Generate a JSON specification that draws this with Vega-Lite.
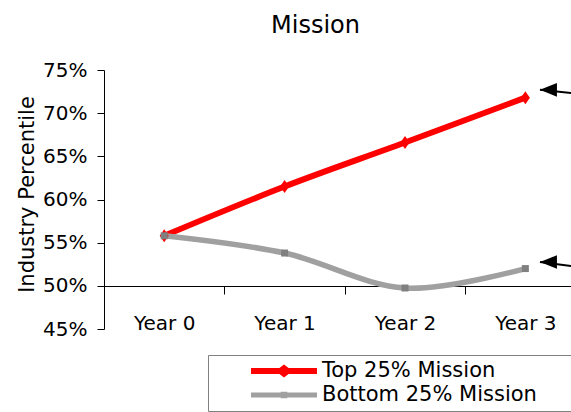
{
  "$schema": "https://vega.github.io/schema/vega-lite/v6.json",
  "width": 467,
  "height": 259,
  "autosize": {"type": "none"},
  "padding": {"left": 104, "top": 70, "right": 0, "bottom": 83},
  "background": "white",
  "title": {
    "text": "Mission",
    "font": "DejaVu Sans",
    "fontSize": 24,
    "fontWeight": "normal",
    "color": "black",
    "anchor": "middle",
    "frame": "group",
    "baseline": "alphabetic",
    "dx": -22,
    "offset": 3
  },
  "config": {
    "view": {"stroke": null},
    "axis": {
      "grid": false,
      "labelFont": "DejaVu Sans",
      "labelColor": "black",
      "domainColor": "black",
      "tickColor": "black",
      "titleFont": "DejaVu Sans",
      "titleFontWeight": "normal",
      "titleColor": "black"
    }
  },
  "datasets": {
    "series": [
      {"series": "Top 25% Mission", "year": 0, "value": 0.558},
      {"series": "Top 25% Mission", "year": 1, "value": 0.615},
      {"series": "Top 25% Mission", "year": 2, "value": 0.666},
      {"series": "Top 25% Mission", "year": 3, "value": 0.718},
      {"series": "Bottom 25% Mission", "year": 0, "value": 0.558},
      {"series": "Bottom 25% Mission", "year": 1, "value": 0.538},
      {"series": "Bottom 25% Mission", "year": 2, "value": 0.4975},
      {"series": "Bottom 25% Mission", "year": 3, "value": 0.52}
    ],
    "arrows": [
      {"year": 3.121, "value": 0.727, "year2": 3.38, "value2": 0.7234},
      {"year": 3.121, "value": 0.5276, "year2": 3.38, "value2": 0.523}
    ]
  },
  "resolve": {
    "axis": {"x": "independent"},
    "scale": {"color": "independent", "shape": "independent"}
  },
  "layer": [
    {
      "data": {"name": "series"},
      "mark": {"type": "line", "interpolate": "catmull-rom", "strokeCap": "butt", "strokeJoin": "round"},
      "encoding": {
        "x": {
          "field": "year",
          "type": "quantitative",
          "scale": {"domain": [-0.5, 3.379], "nice": false, "zero": false},
          "axis": {
            "orient": "bottom",
            "values": [0.5, 1.5, 2.5],
            "labels": false,
            "ticks": true,
            "tickSize": 8,
            "domain": true,
            "offset": -43,
            "title": null
          }
        },
        "y": {
          "field": "value",
          "type": "quantitative",
          "scale": {"domain": [0.45, 0.75], "nice": false, "zero": false},
          "axis": {
            "values": [0.45, 0.5, 0.55, 0.6, 0.65, 0.7, 0.75],
            "format": ".0%",
            "labelFontSize": 20,
            "tickSize": 7,
            "labelPadding": 10,
            "title": "Industry Percentile",
            "titleFontSize": 21,
            "titleAngle": 270,
            "titleAlign": "center",
            "titleBaseline": "alphabetic",
            "titleX": -71,
            "titleY": 124
          }
        },
        "color": {
          "field": "series",
          "type": "nominal",
          "scale": {"domain": ["Top 25% Mission", "Bottom 25% Mission"], "range": ["#ff0000", "#a0a0a0"]},
          "legend": null
        },
        "strokeWidth": {
          "field": "series",
          "type": "nominal",
          "scale": {"domain": ["Top 25% Mission", "Bottom 25% Mission"], "range": [6, 5.5]},
          "legend": null
        }
      }
    },
    {
      "data": {"name": "series"},
      "mark": {"type": "point", "filled": true, "opacity": 1, "size": 100, "strokeWidth": 0},
      "encoding": {
        "x": {
          "field": "year",
          "type": "quantitative",
          "axis": {
            "orient": "bottom",
            "values": [0, 1, 2, 3],
            "labelExpr": "'Year ' + datum.value",
            "labelFontSize": 20,
            "domain": false,
            "ticks": false,
            "offset": -43,
            "labelPadding": 27,
            "title": null
          }
        },
        "y": {"field": "value", "type": "quantitative", "title": "Industry Percentile"},
        "shape": {
          "field": "series",
          "type": "nominal",
          "scale": {
            "domain": ["Top 25% Mission", "Bottom 25% Mission"],
            "range": ["M0,-1.3L0.9,0L0,1.3L-0.9,0Z", "M-0.7,-0.7H0.7V0.7H-0.7Z"]
          },
          "legend": null
        },
        "color": {
          "field": "series",
          "type": "nominal",
          "scale": {"domain": ["Top 25% Mission", "Bottom 25% Mission"], "range": ["#ff0000", "#808080"]},
          "legend": null
        }
      }
    },
    {
      "data": {"name": "series"},
      "transform": [{"filter": "datum.year < 0"}],
      "mark": {"type": "point", "filled": true, "opacity": 1, "strokeWidth": 0},
      "encoding": {
        "x": {"field": "year", "type": "quantitative", "axis": null},
        "y": {"field": "value", "type": "quantitative", "title": "Industry Percentile"},
        "shape": {
          "field": "series",
          "type": "nominal",
          "scale": {
            "domain": ["Top 25% Mission", "Bottom 25% Mission"],
            "range": [
              "M-1,-0.09L-0.14,-0.09L0,-0.2L0.14,-0.09L1,-0.09L1,0.09L0.14,0.09L0,0.2L-0.14,0.09L-1,0.09Z",
              "M-1,-0.075H-0.1V-0.1H0.1V-0.075H1V0.075H0.1V0.1H-0.1V0.075H-1Z"
            ]
          }
        },
        "color": {
          "field": "series",
          "type": "nominal",
          "scale": {"domain": ["Top 25% Mission", "Bottom 25% Mission"], "range": ["#ff0000", "#a0a0a0"]},
          "legend": {
            "orient": "none",
            "legendX": 104,
            "legendY": 285,
            "title": null,
            "direction": "vertical",
            "padding": 4,
            "strokeColor": "#808080",
            "fillColor": "white",
            "symbolSize": 4356,
            "symbolOpacity": 1,
            "symbolStrokeWidth": 0,
            "clipHeight": 24,
            "rowPadding": 0,
            "symbolOffset": 39,
            "labelOffset": 5,
            "labelFont": "DejaVu Sans",
            "labelFontSize": 21,
            "labelColor": "black",
            "labelLimit": 400,
            "labelExpr": "datum.label + '\u2800\u2800\u2800\u2800\u2800\u2800'"
          }
        }
      }
    },
    {
      "data": {"name": "arrows"},
      "mark": {"type": "rule", "color": "black", "strokeWidth": 2},
      "encoding": {
        "x": {"field": "year", "type": "quantitative", "axis": null},
        "x2": {"field": "year2"},
        "y": {"field": "value", "type": "quantitative", "title": "Industry Percentile"},
        "y2": {"field": "value2"}
      }
    },
    {
      "data": {"name": "arrows"},
      "mark": {"type": "point", "shape": "M0,0L2,-0.8L2,0.8Z", "size": 289, "filled": true, "opacity": 1, "color": "black", "strokeWidth": 0},
      "encoding": {
        "x": {"field": "year", "type": "quantitative", "axis": null},
        "y": {"field": "value", "type": "quantitative", "title": "Industry Percentile"}
      }
    }
  ]
}
